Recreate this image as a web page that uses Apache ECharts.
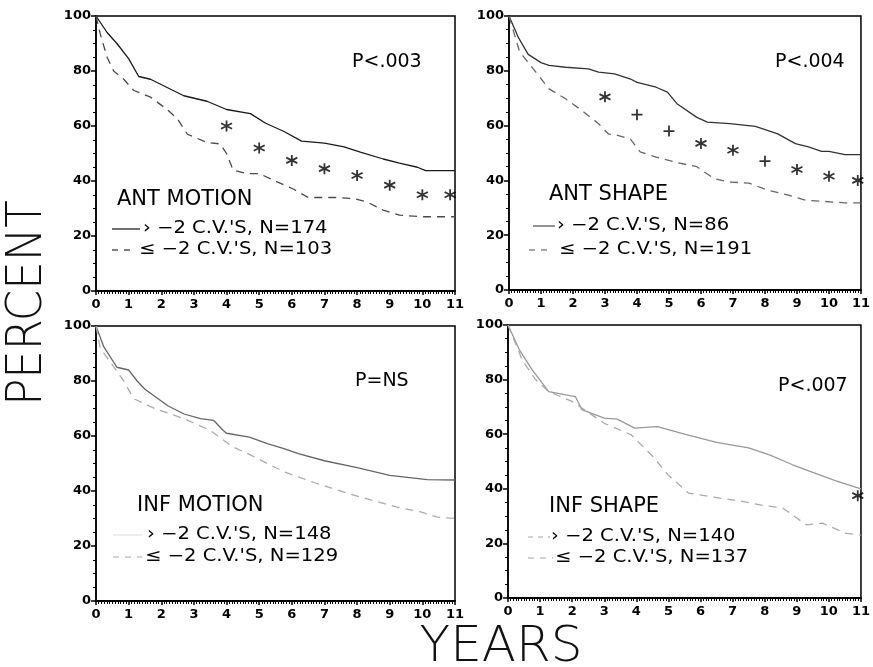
<!DOCTYPE html>
<html>
<head>
<meta charset="utf-8">
<title>Percent by years</title>
<script src="https://cdn.jsdelivr.net/npm/echarts@6/dist/echarts.min.js"></script>
<style>
html,body{margin:0;padding:0;background:#fff;}
#chart{width:873px;height:667px;}
</style>
</head>
<body>
<div id="chart"></div>
<script>
// tick labels
var xTicks = [0,1,2,3,4,5,6,7,8,9,10,11];
var yTicks = [0,20,40,60,80,100];

// ANT MOTION
var antMotionHi = [[0,100],[0.34,94],[0.64,90],[1.0,84.5],[1.31,78],[1.67,77],[2.18,74],[2.69,71],[3.4,69],[4.0,66],[4.73,64.5],[5.2,61],[5.76,58],[6.3,54.5],[7.0,53.8],[7.6,52.4],[8.1,50.5],[8.8,48],[9.3,46.5],[9.85,45],[10.1,43.8],[11,43.8]];
var antMotionLo = [[0,100],[0.13,93.5],[0.34,85],[0.54,80],[0.85,77],[1.15,73],[1.67,70.5],[2.18,66],[2.5,62.5],[2.8,57],[3.4,54],[3.8,53.5],[4.0,50],[4.2,44],[4.6,42.7],[5.0,42.7],[5.55,39.7],[6.06,37],[6.5,34],[7.3,34],[7.9,33.6],[8.3,32.4],[8.8,29.4],[9.3,27.6],[9.95,27],[11,27]];
var antMotionStarX = [4,5,6,7,8,9,10,10.85];
var antMotionStarY = [60,52,47.5,44.5,42,38.5,35,35];

// ANT SHAPE
var antShapeHi = [[0,100],[0.3,92],[0.6,86],[1.0,83],[1.25,82],[1.77,81.3],[2.48,80.7],[2.8,79.5],[3.3,78.9],[3.8,77],[4.0,75.8],[4.6,74],[4.95,72.2],[5.25,68],[5.87,63],[6.2,61.3],[6.9,60.7],[7.7,59.7],[8.4,57],[8.95,53.4],[9.36,52.2],[9.77,50.6],[10.0,50.6],[10.5,49.4],[11,49.4]];
var antShapeLo = [[0,100],[0.33,87],[0.74,81],[1.25,73.4],[1.77,69.8],[2.28,65.5],[2.8,60.7],[3.1,57],[3.4,56.4],[3.8,55],[4.1,50.4],[4.6,48.5],[5.25,46.5],[5.87,45],[6.4,40.7],[6.9,39.4],[7.5,39],[8.1,36.4],[8.74,34.6],[9.26,32.8],[9.77,32.4],[10.5,31.8],[11,31.8]];
var antShapeStarX = [3,6,7,9,10,10.9];
var antShapeStarY = [70.5,53.5,51,44,41.5,40];
var antShapePlusX = [4,5,8];
var antShapePlusY = [64,58,47];

// INF MOTION
var infMotionHi = [[0,100],[0.24,92.4],[0.64,85],[1.0,84],[1.26,80],[1.5,77],[2.2,71],[2.7,68],[3.2,66.3],[3.6,65.7],[3.9,62],[4.0,61],[4.7,59.6],[5.25,57.2],[5.76,55.4],[6.2,53.6],[7.0,51],[8.0,48.5],[9.0,45.7],[10.15,44.1],[11,44]];
var infMotionLo = [[0,100],[0.13,92],[0.85,80],[1.15,73.6],[1.8,70],[2.7,66.3],[3.5,62],[4.2,56],[4.7,53.3],[5.25,50],[5.76,47],[6.7,43],[7.75,39],[8.5,36.5],[9.2,34.2],[9.95,32.4],[10.46,30.5],[11,30]];

// INF SHAPE
var infShapeHi = [[0,100],[0.35,91],[0.76,83.5],[1.27,75.6],[1.8,74.4],[2.1,73.8],[2.3,69],[3.0,65.9],[3.4,65.5],[3.95,62.2],[4.66,62.8],[5.5,60],[6.5,57],[7.5,55],[8.15,52.4],[8.87,48.8],[9.5,46],[10.2,43],[11,40]];
var infShapeLo = [[0,100],[0.45,87],[0.86,80],[1.27,75.6],[2.0,72],[2.5,68],[3.0,64],[3.84,59.8],[4.5,52],[5.0,45],[5.63,38.4],[6.6,36.6],[7.3,35.4],[7.9,34],[8.56,33],[9.3,26.8],[9.8,27.4],[10.5,23.8],[11,23]];
var infShapeStarX = [10.9];
var infShapeStarY = [37.5];

// panel texts
var panelTitles = ['ANT MOTION','ANT SHAPE','INF MOTION','INF SHAPE'];
var panelP = ['P<.003','P<.004','P=NS','P<.007'];
var hiLabels = ['\u203A \u22122 C.V.\'S, N=174','\u203A \u22122 C.V.\'S, N=86','\u203A \u22122 C.V.\'S, N=148','\u203A \u22122 C.V.\'S, N=140'];
var loLabels = ['\u2264 \u22122 C.V.\'S, N=103','\u2264 \u22122 C.V.\'S, N=191','\u2264 \u22122 C.V.\'S, N=129','\u2264 \u22122 C.V.\'S, N=137'];

var ASTER = 'path://M5,0L5,10M0.67,2.5L9.33,7.5M0.67,7.5L9.33,2.5';
var PLUS = 'path://M5,0L5,10M0,5L10,5';
var FONT = 'DejaVu Sans';

function pairs(xs, ys){
	var out = [];
	for(var i=0;i<xs.length;i++){ out.push([xs[i], ys[i]]); }
	return out;
}

function initChart(){
	var myChart = echarts.init(document.getElementById('chart'), null, {renderer:'canvas'});

	var grids = [
		{left:96, top:16, width:359, height:275},
		{left:509, top:16, width:357, height:274},
		{left:96, top:326, width:359, height:275},
		{left:508, top:325, width:358, height:273}
	];
	var curves = [
		[antMotionHi, antMotionLo, '#1a1a1a', '#4a4a4a'],
		[antShapeHi, antShapeLo, '#333', '#666'],
		[infMotionHi, infMotionLo, '#666', '#aaa'],
		[infShapeHi, infShapeLo, '#999', '#aaa']
	];

	var xAxes = [], yAxes = [], series = [];
	for(var i=0;i<4;i++){
		grids[i].show = true;
		grids[i].borderColor = '#000';
		grids[i].borderWidth = 1.5;
		xAxes.push({
			gridIndex:i, type:'value',
			min:xTicks[0], max:xTicks[xTicks.length-1], interval:1,
			axisLine:{onZero:false, lineStyle:{color:'#000', width:2}},
			axisTick:{length:4, lineStyle:{color:'#000', width:1.5}},
			minorTick:{show:true, splitNumber:12, length:3, lineStyle:{color:'#000', width:1}},
			splitLine:{show:false},
			axisLabel:{color:'#000', fontSize:13, fontWeight:'bold', fontFamily:FONT, margin:7}
		});
		yAxes.push({
			gridIndex:i, type:'value',
			min:yTicks[0], max:yTicks[yTicks.length-1], interval:20,
			axisLine:{show:true, lineStyle:{color:'#000', width:1.5}},
			axisTick:{show:true, length:5, lineStyle:{color:'#000', width:1.5}},
			minorTick:{show:true, splitNumber:4, length:3, lineStyle:{color:'#000', width:1}},
			splitLine:{show:false},
			axisLabel:{color:'#000', fontSize:13, fontWeight:'bold', fontFamily:FONT, margin:5}
		});
		series.push({
			type:'line', xAxisIndex:i, yAxisIndex:i, data:curves[i][0],
			symbol:'none', silent:true,
			lineStyle:{color:curves[i][2], width:1.3}
		});
		series.push({
			type:'line', xAxisIndex:i, yAxisIndex:i, data:curves[i][1],
			symbol:'none', silent:true,
			lineStyle:{color:curves[i][3], width:1.3, type:[8,6]}
		});
	}

	function marks(idx, data, sym){
		series.push({
			type:'scatter', xAxisIndex:idx, yAxisIndex:idx, data:data,
			symbol:sym, symbolSize:11, silent:true,
			itemStyle:{color:'#000', borderColor:'#000', borderWidth:1.8}
		});
	}
	marks(0, pairs(antMotionStarX, antMotionStarY), ASTER);
	marks(1, pairs(antShapeStarX, antShapeStarY), ASTER);
	marks(1, pairs(antShapePlusX, antShapePlusY), PLUS);
	marks(3, pairs(infShapeStarX, infShapeStarY), ASTER);

	// text placements per panel
	var pPos = [[352,62],[775,62],[355,381],[778,386]];
	var tPos = [[117,200],[549,195],[137,506],[549,507]];
	var l1 = [[143,229],[557,226],[147,535],[551,537]];
	var l2 = [[139,250],[559,250],[145,557],[555,558]];
	var s1 = [[112,140,'#222',null],[533,555,'#555',null],[113,142,'#e4e4e4',null],[528,550,'#bbb',[5,5]]];
	var s2 = [[112,136,'#555',[6,6]],[529,553,'#888',[6,6]],[113,142,'#bbb',[6,6]],[528,553,'#bbb',[6,6]]];

	var graphic = [];
	function txt(x, y, s, size, extra){
		var el = {type:'text', x:x, y:y, silent:true,
			style:{text:s, fill:'#000', fontSize:size, fontFamily:FONT, verticalAlign:'middle'}};
		if(extra){ for(var k in extra){ el[k] = extra[k]; } }
		return el;
	}
	for(var j=0;j<4;j++){
		graphic.push(txt(pPos[j][0], pPos[j][1], panelP[j], 19));
		graphic.push(txt(tPos[j][0], tPos[j][1], panelTitles[j], 21));
		graphic.push(txt(l1[j][0], l1[j][1], hiLabels[j], 17, {scaleX:1.15}));
		graphic.push(txt(l2[j][0], l2[j][1], loLabels[j], 17, {scaleX:1.15}));
		graphic.push({type:'line', silent:true,
			shape:{x1:s1[j][0], y1:l1[j][1], x2:s1[j][1], y2:l1[j][1]},
			style:{stroke:s1[j][2], lineWidth:1.3, lineDash:s1[j][3]}});
		graphic.push({type:'line', silent:true,
			shape:{x1:s2[j][0], y1:l2[j][1], x2:s2[j][1], y2:l2[j][1]},
			style:{stroke:s2[j][2], lineWidth:1.3, lineDash:s2[j][3]}});
	}
	// big axis titles
	graphic.push({type:'text', x:28, y:303, rotation:Math.PI/2, scaleX:0.9, silent:true,
		style:{text:'PERCENT', fill:'#111', fontSize:50, fontWeight:200, fontFamily:FONT, align:'center', verticalAlign:'middle'}});
	graphic.push({type:'text', x:501, y:648, silent:true,
		style:{text:'YEARS', fill:'#111', fontSize:50, fontWeight:200, fontFamily:FONT, align:'center', verticalAlign:'middle'}});

	var option = {
		backgroundColor:'#fff',
		animation:false,
		grid:grids,
		xAxis:xAxes,
		yAxis:yAxes,
		series:series,
		graphic:graphic
	};
	myChart.setOption(option);
}

initChart();
</script>
</body>
</html>
